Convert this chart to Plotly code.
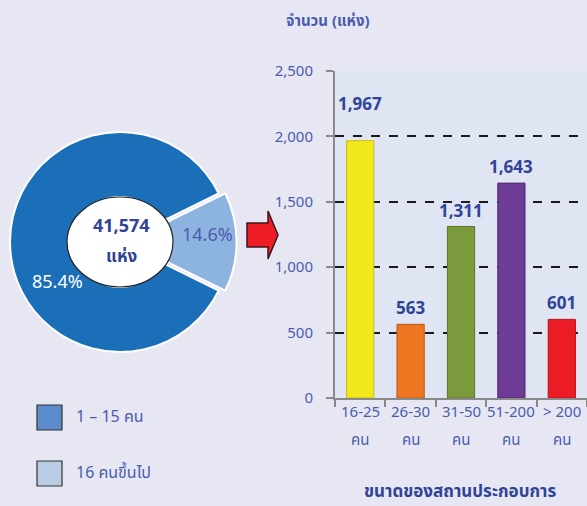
import plotly.graph_objects as go

W, H = 587, 506
def px(x): return x / W
def py(y): return 1 - y / H

# ---- data ----
pie_labels = ["1 – 15 คน", "16 คนขึ้นไป"]
pie_values = [85.4, 14.6]
total_text = "41,574"
total_unit = "แห่ง"

size_groups = ["16-25", "26-30", "31-50", "51-200", "> 200"]
size_unit = "คน"
counts = [1967, 563, 1311, 1643, 601]

y_title = "จำนวน (แห่ง)"
x_title = "ขนาดของสถานประกอบการ"

# ---- styles ----
FONT = "Tahoma, 'Noto Sans Thai', 'Noto Sans', sans-serif"
TXT = "#4a5cac"
TXT_DARK = "#2f4496"
pie_colors = ["#1b6eb8", "#8db3e0"]
legend_colors = ["#5b8dcb", "#b8cce4"]
bar_colors = ["#f2e81c", "#ee7620", "#7a9a3c", "#6e3b96", "#ec1c24"]
bar_lines = ["#c9bd10", "#b5561a", "#5b7629", "#4f2a6e", "#b5141a"]

fig = go.Figure()

# donut (small slice centred at 3 o'clock)
cx, cy, r, pull = 120, 242, 110, 0.06
s = r * (1 + pull)
fig.add_trace(go.Pie(
    labels=pie_labels, values=pie_values,
    sort=False, direction="clockwise",
    rotation=90 + pie_values[1] * 3.6 / 2,
    hole=0.41, pull=[0, pull], textinfo="none", showlegend=False,
    marker=dict(colors=pie_colors, line=dict(color="white", width=2)),
    domain=dict(x=[px(cx - s), px(cx + s)], y=[py(cy + s), py(cy - s)]),
    hoverinfo="label+percent",
))

# bars
fig.add_trace(go.Bar(
    x=size_groups, y=counts, width=0.54,
    marker=dict(color=bar_colors, line=dict(color=bar_lines, width=1)),
    xaxis="x", yaxis="y", showlegend=False,
))

def note(x, y, text, size, color, xref="paper", yref="paper", xanchor="center", yshift=0):
    return dict(x=x, y=y, xref=xref, yref=yref, text=text, showarrow=False,
                xanchor=xanchor, yanchor="middle", yshift=yshift,
                font=dict(size=size, color=color))

label_shift = {0: 36}
ann = []
for i, (g, v) in enumerate(zip(size_groups, counts)):
    ann.append(note(g, v, f"<b>{v:,}</b>", 17, TXT_DARK, xref="x", yref="y",
                    yshift=label_shift.get(i, 15)))
    ann.append(note(g, py(412), g, 15, TXT, xref="x"))
    ann.append(note(g, py(440), size_unit, 15, TXT, xref="x"))

ann += [
    note(px(328), py(22), f"<b>{y_title}</b>", 15, TXT),
    note(px(460), py(492), f"<b>{x_title}</b>", 17, TXT_DARK),
    note(px(121), py(226), f"<b>{total_text}</b>", 18, TXT_DARK),
    note(px(121), py(257), f"<b>{total_unit}</b>", 17, TXT_DARK),
    note(px(207), py(235), f"{pie_values[1]}%", 18, TXT),
    note(px(57), py(282), f"{pie_values[0]}%", 18, "white"),
]

shapes = [
    dict(type="circle", xref="paper", yref="paper",
         x0=px(67), x1=px(173), y0=py(287), y1=py(197),
         fillcolor="white", line=dict(color="#222", width=1.2), layer="above"),
    dict(type="path", xref="paper", yref="paper",
         path=(f"M {px(247)},{py(223)} L {px(268)},{py(223)} L {px(268)},{py(211)} "
               f"L {px(278)},{py(235)} L {px(268)},{py(259)} L {px(268)},{py(247)} "
               f"L {px(247)},{py(247)} Z"),
         fillcolor="#ee1c24", line=dict(color="#3a1a1a", width=1.5)),
]

for i, (lab, col) in enumerate(zip(pie_labels, legend_colors)):
    y0 = 405 + i * 56
    shapes.append(dict(type="rect", xref="paper", yref="paper",
                       x0=px(37), x1=px(62), y0=py(y0 + 25), y1=py(y0),
                       fillcolor=col, line=dict(color="#333", width=1.2)))
    ann.append(note(px(74), py(y0 + 12), lab, 16, TXT, xanchor="left"))

fig.update_layout(
    width=W, height=H, margin=dict(l=0, r=0, t=0, b=0, pad=0, autoexpand=False),
    paper_bgcolor="#e7e7f3", plot_bgcolor="#dfe5f2",
    font=dict(family=FONT, color=TXT, size=14),
    xaxis=dict(domain=[px(335), 1], type="category", tickson="boundaries",
               showticklabels=False, ticks="outside", ticklen=7, tickwidth=2,
               tickcolor="#8a8a8a", showline=True, linecolor="#8a8a8a", linewidth=2,
               showgrid=False, range=[-0.5, 4.5], fixedrange=True, automargin=False),
    yaxis=dict(domain=[py(398), py(71)], range=[0, 2500], dtick=500,
               tickformat=",", ticks="outside", ticklen=7, tickwidth=2,
               tickcolor="#8a8a8a", showline=True, linecolor="#8a8a8a", linewidth=2,
               gridcolor="#1a1a1a", griddash="dash", gridwidth=1.5, zeroline=False,
               tickfont=dict(size=15, color=TXT), ticklabelstandoff=10, automargin=False),
    annotations=ann, shapes=shapes, bargap=0.46,
)

fig.write_html("out.html", config={"displayModeBar": False},
               post_script="document.body.style.margin='0';document.body.style.overflow='hidden';")
